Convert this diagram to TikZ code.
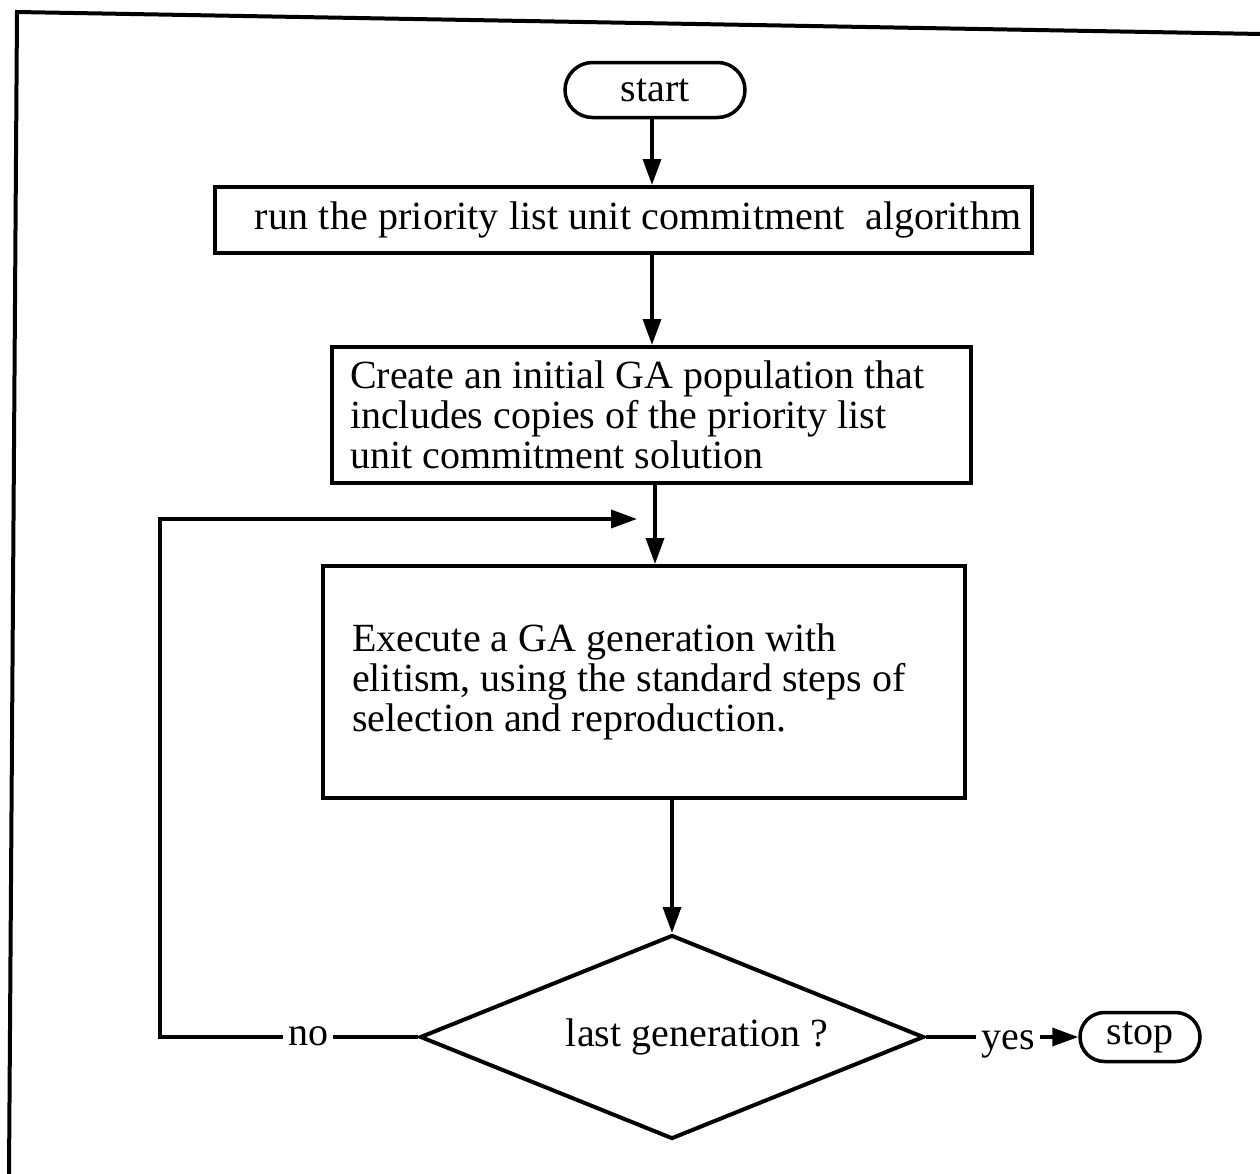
\documentclass[tikz,border=0pt]{standalone}
\usepackage{fontspec}
\setmainfont{Liberation Serif}
\usetikzlibrary{arrows.meta,shapes.geometric,shapes.misc}
% normal inter-word space inside aligned node text
\newcommand{\wordgap}{\spaceskip=0.25em plus 0.05em\relax}

\begin{document}
\begin{tikzpicture}[x=1pt,y=-1pt,
    every node/.style={font=\fontsize{40}{40}\selectfont},
    frame/.style={line width=4pt, line join=miter},
    terminal/.style={draw, line width=3.5pt, rounded rectangle, inner sep=0pt},
    procbox/.style={draw, line width=4pt, rectangle, inner ysep=0pt},
    decision/.style={draw, line width=4pt, diamond, shape aspect=2.5, inner sep=0pt},
    flow/.style={line width=3.5pt, -{Triangle[length=26pt,width=18pt]}},
    plain/.style={line width=3.5pt},
    branch/.style={inner xsep=5pt, inner ysep=0pt, anchor=base}]
  \useasboundingbox (0,0) rectangle (1260,1173);

  % outer frame
  \draw[frame] (1262,34) -- (17,12) -- (9,1175);

  % nodes
  \node[terminal, minimum width=180pt, minimum height=55pt] (start) at (655,90) {start};
  \node[procbox, minimum width=817pt, minimum height=66pt, text width=795pt,
        align=right, inner xsep=11pt] (run) at (623.5,220) {\wordgap run the priority list unit commitment \ algorithm};
  \node[procbox, minimum width=639pt, minimum height=136pt, text width=603pt,
        align=left, inner xsep=18pt] (create) at (651.5,415) {\wordgap Create an initial GA population that\\includes copies of the priority list\\unit commitment solution};
  \node[procbox, minimum width=642pt, minimum height=232pt, text width=584pt,
        align=left, inner xsep=29pt] (exec) at (644,682) {\wordgap Execute a GA generation with\\elitism, using the standard steps of\\selection and reproduction.};
  \node[decision, minimum width=504pt, minimum height=204pt] (dec) at (672,1037) {\hspace*{50pt}last generation ?};
  \node[branch] (no) at (308,1045) {no};
  \node[branch] (yes) at (1008,1049) {yes};
  \node[terminal, minimum width=120pt, minimum height=49pt] (stop) at (1140,1037) {stop};

  % connector end points, level with the diamond's side corners
  \coordinate (col) at (652,0);
  \coordinate (noin) at (dec.west -| no.base east);
  \coordinate (noout) at (dec.west -| no.base west);
  \coordinate (yesin) at (dec.east -| yes.base west);
  \coordinate (yesout) at (dec.east -| yes.base east);
  \coordinate (loopcorner) at (160,0 |- noout);
  \coordinate (loopend) at (637,519);

  % connectors
  \draw[flow] (start.south -| col) -- (run.north -| col);
  \draw[flow] (run.south -| col) -- (create.north -| col);
  \draw[flow] ([xshift=3pt]create.south -| col) -- ([xshift=3pt]exec.north -| col);
  \draw[flow] (exec.south -| dec.north) -- (dec.north);
  \draw[plain] (dec.west) -- (noin);
  \draw[flow, line join=miter] (noout) -- (loopcorner) -- (loopcorner |- loopend) -- (loopend);
  \draw[plain] (dec.east) -- (yesin);
  \draw[flow] (yesout) -- (stop.west);
\end{tikzpicture}
\end{document}
